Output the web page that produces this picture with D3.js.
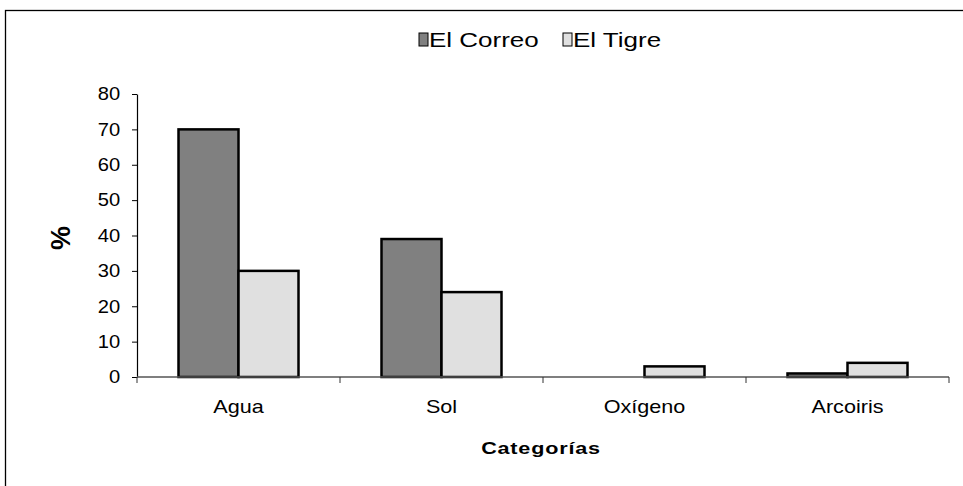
<!DOCTYPE html>
<html><head><meta charset="utf-8">
<script src="https://cdn.jsdelivr.net/npm/d3@7"></script>
<style>body{margin:0;background:#fff}svg{display:block;font-family:"Liberation Sans",Arial,sans-serif}</style>
</head><body><svg id="c" width="963" height="486"></svg>
<script>
const categories = ["Agua", "Sol", "Oxígeno", "Arcoiris"];
const seriesNames = ["El Correo", "El Tigre"];
const elCorreo = [70, 39, 0, 1];
const elTigre = [30, 24, 3, 4];
const yTicks = [0, 10, 20, 30, 40, 50, 60, 70, 80];
const colors = ["#808080", "#e0e0e0"];

(function () {
const svg = d3.select("#c");
// frame (left + top visible)
svg.append("rect").attr("x", 5.5).attr("y", 10.5).attr("width", 1000).attr("height", 600)
  .attr("fill", "none").attr("stroke", "#000").attr("stroke-width", 1.3);

const pLeft = 137, pRight = 949, pTop = 94, pBottom = 377;
const x0 = d3.scaleBand().domain(categories).range([pLeft, pRight]).padding(0);
const groupW = 120;
const x1 = d3.scaleBand().domain(seriesNames).range([0, groupW]).padding(0);
const y = d3.scaleLinear().domain([0, 80]).range([pBottom, pTop]);

const data = categories.map((c, i) => ({cat: c, vals: [elCorreo[i], elTigre[i]]}));

// bars
const g = svg.append("g");
data.forEach(d => {
  d.vals.forEach((v, j) => {
    const xx = x0(d.cat) + (x0.bandwidth() - groupW) / 2 + x1(seriesNames[j]);
    g.append("rect")
      .attr("x", xx).attr("y", y(v))
      .attr("width", x1.bandwidth()).attr("height", pBottom - y(v))
      .attr("fill", colors[j]).attr("stroke", "#000").attr("stroke-width", 2.5);
  });
});

// y axis
const yAxis = svg.append("g").attr("transform", `translate(${pLeft},0)`)
  .call(d3.axisLeft(y).tickValues(yTicks).tickSize(5).tickPadding(8).tickSizeOuter(0));
yAxis.select(".domain").attr("stroke", "#000").attr("stroke-width", 1.2);
yAxis.selectAll(".tick line").attr("stroke", "#000");
yAxis.selectAll("text").attr("font-size", 18).attr("fill", "#000")
  .attr("font-family", "Liberation Sans, Arial").attr("transform", "scale(1.12,1)").attr("x", -15);

// x axis
const xAxis = svg.append("g").attr("transform", `translate(0,${pBottom})`);
xAxis.append("line").attr("x1", pLeft).attr("x2", pRight).attr("y1", 0).attr("y2", 0)
  .attr("stroke", "#555").attr("stroke-width", 1.5);
const boundaries = categories.map(c => x0(c)).concat([x0(categories[categories.length - 1]) + x0.bandwidth()]);
xAxis.selectAll("line.tk").data(boundaries).enter().append("line").attr("class", "tk")
  .attr("x1", d => d).attr("x2", d => d).attr("y1", 0).attr("y2", 6)
  .attr("stroke", "#333").attr("stroke-width", 1);
xAxis.selectAll("g.lbl").data(categories).enter().append("g").attr("class", "lbl")
  .attr("transform", d => `translate(${x0(d) + x0.bandwidth() / 2},36) scale(1.2,1)`)
  .append("text").attr("text-anchor", "middle").attr("font-size", 18).attr("fill", "#000").text(d => d);

// axis titles
svg.append("g").attr("transform", `translate(541,454) scale(1.35,1)`)
  .append("text").attr("text-anchor", "middle").attr("font-size", 16).attr("font-weight", "bold")
  .attr("letter-spacing", 0.6).text("Categorías");
svg.append("text").attr("transform", "translate(70,238) rotate(-90)")
  .attr("text-anchor", "middle").attr("font-size", 27).attr("font-weight", "bold").text("%");

// legend
const legendPos = [419, 563];
const lg = svg.append("g");
seriesNames.forEach((s, j) => {
  lg.append("rect").attr("x", legendPos[j]).attr("y", 33).attr("width", 9).attr("height", 13)
    .attr("fill", colors[j]).attr("stroke", "#000").attr("stroke-width", 1);
  lg.append("g").attr("transform", `translate(${legendPos[j] + 10},47) scale(1.3,1)`)
    .append("text").attr("font-size", 20).attr("fill", "#000").text(s);
});
})();
</script></body></html>
